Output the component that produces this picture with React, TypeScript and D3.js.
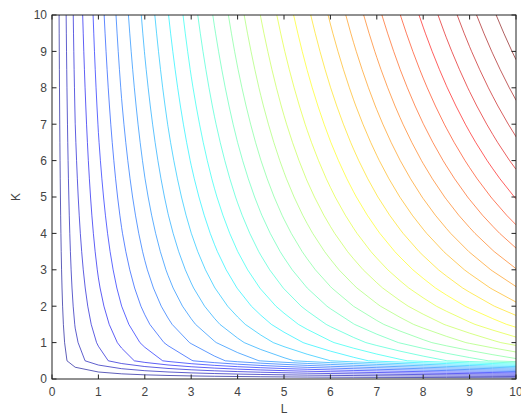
import { useEffect, useRef } from "react"
import * as d3 from "d3"

// sample grid of the surface (the contour kinks sit every 0.5 on both axes)
const Lgrid = [0, 0.5, 1, 1.5, 2, 2.5, 3, 3.5, 4, 4.5, 5, 5.5, 6, 6.5, 7, 7.5, 8, 8.5, 9, 9.5, 10]
const Kgrid = [0, 0.5, 1, 1.5, 2, 2.5, 3, 3.5, 4, 4.5, 5, 5.5, 6, 6.5, 7, 7.5, 8, 8.5, 9, 9.5, 10]

// Q = L^a * K^b, exponents fitted from where the curves cross the frame
const EXP_L = 0.75
const EXP_K = 0.25

// the 30 contour levels
const levels = [
  0.323, 0.645, 0.968, 1.29, 1.613, 1.935, 2.258, 2.581, 2.903, 3.226,
  3.548, 3.871, 4.194, 4.516, 4.839, 5.161, 5.484, 5.806, 6.129, 6.452,
  6.774, 7.097, 7.419, 7.742, 8.065, 8.387, 8.71, 9.032, 9.355, 9.677
]

const xTicks = [0, 1, 2, 3, 4, 5, 6, 7, 8, 9, 10]
const yTicks = [0, 1, 2, 3, 4, 5, 6, 7, 8, 9, 10]

// matlab jet(64)
function jet64(i: number): string {
  const u = (k: number) => (k < 1 || k > 47 ? 0 : k <= 16 ? k / 16 : k <= 31 ? 1 : (48 - k) / 16)
  return d3.rgb(u(i - 24) * 255, u(i - 8) * 255, u(i + 8) * 255).formatHex()
}

export default function App() {
  const svgRef = useRef<SVGSVGElement>(null)

  useEffect(() => {
    if (!svgRef.current) return
    const svg = d3.select(svgRef.current)
    svg.selectAll("*").remove()

    const width = 521
    const height = 415
    const left = 52, right = 516, top = 15, bottom = 379
    const font = "'Liberation Sans', Arial, sans-serif"

    const x = d3.scaleLinear().domain([0, 10]).range([left, right])
    const y = d3.scaleLinear().domain([0, 10]).range([bottom, top])

    svg.attr("width", width).attr("height", height)

    svg.append("rect").attr("width", width).attr("height", height).attr("fill", "#fff")

    svg.append("defs").append("clipPath").attr("id", "plot-clip")
      .append("rect")
      .attr("x", left).attr("y", top)
      .attr("width", right - left).attr("height", bottom - top)

    const nx = Lgrid.length
    const ny = Kgrid.length
    const values: number[] = []
    for (let j = 0; j < ny; j++) {
      for (let i = 0; i < nx; i++) {
        values.push(Math.pow(Lgrid[i], EXP_L) * Math.pow(Kgrid[j], EXP_K))
      }
    }

    // contour coords are cell centred: grid index i sits at i + 0.5
    const xi = d3.scaleLinear().domain([0, nx - 1]).range([x(Lgrid[0]), x(Lgrid[nx - 1])])
    const yi = d3.scaleLinear().domain([0, ny - 1]).range([y(Kgrid[0]), y(Kgrid[ny - 1])])
    const path = d3.geoPath(d3.geoTransform({
      point(px, py) {
        this.stream.point(xi(px - 0.5), yi(py - 0.5))
      }
    }))

    const contours = d3.contours().size([nx, ny]).thresholds(levels)(values)
    const cmin = levels[0], cmax = levels[levels.length - 1]

    svg.append("g")
      .attr("clip-path", "url(#plot-clip)")
      .selectAll("path")
      .data(contours)
      .join("path")
      .attr("d", d => path(d as any))
      .attr("fill", "none")
      .attr("stroke", d => {
        const idx = Math.min(64, Math.floor(((d.value - cmin) / (cmax - cmin)) * 64) + 1)
        return jet64(idx)
      })
      .attr("stroke-width", 0.9)
      .attr("stroke-opacity", 0.7)

    // frame
    svg.append("rect")
      .attr("x", left).attr("y", top)
      .attr("width", right - left).attr("height", bottom - top)
      .attr("fill", "none").attr("stroke", "#222").attr("stroke-width", 1)

    const tickLen = 4.5
    const ticks = svg.append("g").attr("stroke", "#222").attr("stroke-width", 1)
    xTicks.forEach(t => {
      ticks.append("line").attr("x1", x(t)).attr("x2", x(t)).attr("y1", bottom).attr("y2", bottom - tickLen)
      ticks.append("line").attr("x1", x(t)).attr("x2", x(t)).attr("y1", top).attr("y2", top + tickLen)
    })
    yTicks.forEach(t => {
      ticks.append("line").attr("x1", left).attr("x2", left + tickLen).attr("y1", y(t)).attr("y2", y(t))
      ticks.append("line").attr("x1", right).attr("x2", right - tickLen).attr("y1", y(t)).attr("y2", y(t))
    })

    svg.append("g").selectAll("text")
      .data(xTicks)
      .join("text")
      .attr("x", d => x(d))
      .attr("y", bottom + 17)
      .attr("text-anchor", "middle")
      .style("font-family", font)
      .style("font-size", "12px")
      .style("fill", "#444")
      .text(d => d)

    svg.append("g").selectAll("text")
      .data(yTicks)
      .join("text")
      .attr("x", left - 5)
      .attr("y", d => y(d) + 4.3)
      .attr("text-anchor", "end")
      .style("font-family", font)
      .style("font-size", "12px")
      .style("fill", "#444")
      .text(d => d)

    svg.append("text")
      .attr("x", (left + right) / 2)
      .attr("y", 413)
      .attr("text-anchor", "middle")
      .style("font-family", font)
      .style("font-size", "12px")
      .style("fill", "#444")
      .text("L")

    svg.append("text")
      .attr("transform", `translate(19.5,${(top + bottom) / 2}) rotate(-90)`)
      .attr("text-anchor", "middle")
      .style("font-family", font)
      .style("font-size", "12px")
      .style("fill", "#444")
      .text("K")
  }, [])

  return (
    <div style={{ position: "absolute", left: 0, top: 0 }}>
      <svg ref={svgRef} style={{ display: "block" }} />
    </div>
  )
}
